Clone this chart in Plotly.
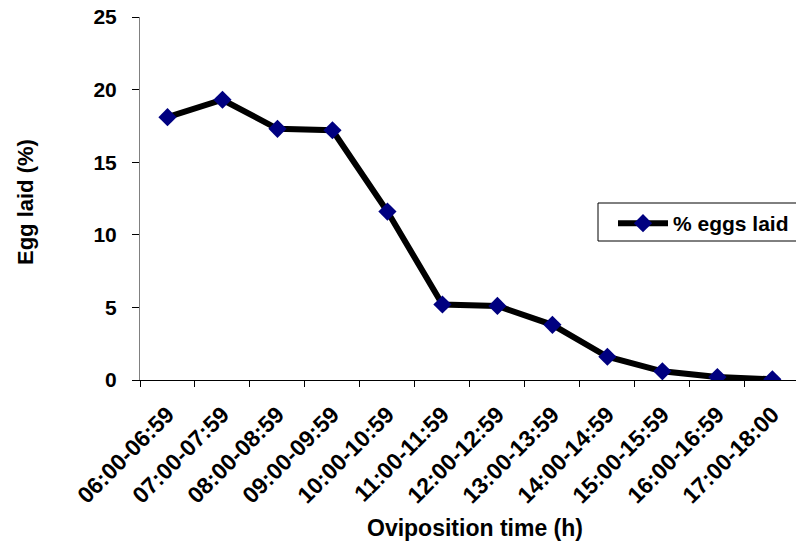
import plotly.graph_objects as go

categories = ["06:00-06:59", "07:00-07:59", "08:00-08:59", "09:00-09:59", "10:00-10:59",
              "11:00-11:59", "12:00-12:59", "13:00-13:59", "14:00-14:59", "15:00-15:59",
              "16:00-16:59", "17:00-18:00"]
eggs_laid = [18.1, 19.3, 17.3, 17.2, 11.6, 5.2, 5.1, 3.8, 1.6, 0.6, 0.2, 0.05]
y_ticks = [0, 5, 10, 15, 20, 25]

FONT = "Arial, Liberation Sans, sans-serif"
PW, PH, L, B = 656, 363, 140, 380  # plot-area size and origin (px)

fig = go.Figure()
fig.add_trace(go.Scatter(
    x=categories, y=eggs_laid, mode="lines+markers",
    name="% eggs laid",
    line=dict(color="black", width=6),
    marker=dict(symbol="diamond", size=14, color="#000080"),
))

fig.update_layout(
    width=796, height=544,
    margin=dict(l=140, r=0, t=17, b=164),
    paper_bgcolor="white", plot_bgcolor="white",
    font=dict(family=FONT, size=15, color="black"),
    showlegend=True,
    legend=dict(
        x=(613 - L) / PW, y=(B - 203) / PH, xanchor="left", yanchor="top",
        bgcolor="rgba(0,0,0,0)", borderwidth=0,
        font=dict(family=FONT, size=21, color="black", weight="bold"),
        itemwidth=50,
    ),
    shapes=[dict(type="rect", xref="paper", yref="paper",
                 x0=(598 - L) / PW, x1=(805 - L) / PW,
                 y0=(B - 241) / PH, y1=(B - 203) / PH,
                 line=dict(color="black", width=1), fillcolor="white", layer="below")],
    xaxis=dict(
        type="category",
        range=[-0.5, 11.43],
        tickangle=-45,
        tickson="boundaries",
        tickfont=dict(family=FONT, size=23, color="black", weight="bold"),
        ticklabelstandoff=11,
        showline=True, linecolor="black", linewidth=1,
        ticks="outside", ticklen=6, tickcolor="black",
        showgrid=False, zeroline=False,
    ),
    yaxis=dict(
        range=[0, 25], tickvals=y_ticks,
        tickfont=dict(family=FONT, size=21, color="black", weight="bold"),
        ticklabelstandoff=11,
        showline=True, linecolor="#808080", linewidth=1,
        ticks="outside", ticklen=7, tickcolor="black",
        showgrid=False, zeroline=False,
    ),
    annotations=[
        dict(text="Oviposition time (h)", xref="paper", yref="paper",
             x=(475 - L) / PW, y=-(528 - B) / PH, xanchor="center", yanchor="middle",
             showarrow=False, font=dict(family=FONT, size=23, color="black", weight="bold")),
        dict(text="Egg laid (%)", xref="paper", yref="paper",
             x=-(L - 26) / PW, y=(B - 202) / PH, xanchor="center", yanchor="middle",
             textangle=-90, showarrow=False,
             font=dict(family=FONT, size=22, color="black", weight="bold")),
    ],
)

fig.write_html("out.html")
